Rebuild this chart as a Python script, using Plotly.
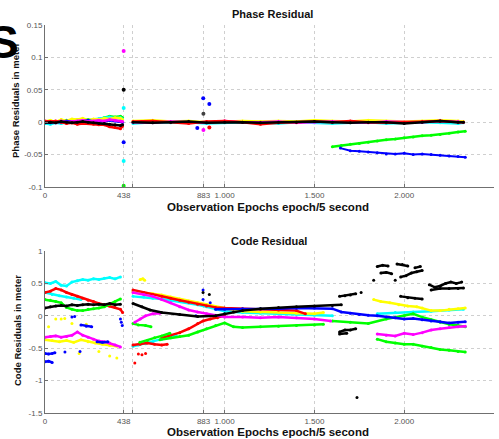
import plotly.graph_objects as go

# ---------------- axis ticks ----------------
x_tick_vals = [0, 438, 486, 883, 1000, 1500, 2000, 2500]
x_tick_text = ["0", "438", "", "883", "1.000", "1.500", "2.000", "2.500"]
ph_tick_vals = [-0.1, -0.05, 0, 0.05, 0.1, 0.15]
ph_tick_text = ["-0.1", "-0.05", "0", "0.05", "0.1", "0.15"]
cd_tick_vals = [-1.5, -1, -0.5, 0, 0.5, 1]
cd_tick_text = ["-1.5", "-1", "-0.5", "0", "0.5", "1"]

# ---------------- Phase residual data ----------------
ph_x1 = [0, 30, 60, 90, 120, 150, 180, 210, 240, 270, 300, 330, 360, 390, 420, 432]
ph_red1 = [0.002, 0.001, 0.002, 0.0, -0.002, -0.001, -0.003, -0.002, -0.002, -0.003, -0.004, -0.004, -0.007, -0.008, -0.010, -0.006]
ph_yellow1 = [0.001, 0.003, 0.0, 0.004, 0.002, 0.005, 0.004, 0.006, 0.003, 0.005, 0.004, 0.006, 0.005, 0.007, 0.006, 0.004]
ph_cyan1 = [-0.002, -0.003, -0.001, -0.002, 0.0, 0.001, 0.002, 0.0, 0.003, 0.004, 0.005, 0.006, 0.008, 0.006, 0.007, 0.005]
ph_green1 = [0.001, 0.002, 0.0, 0.001, 0.003, 0.002, 0.004, 0.003, 0.004, 0.002, 0.005, 0.007, 0.009, 0.008, 0.009, 0.007]
ph_magenta1 = [0.0, 0.001, -0.001, 0.002, 0.0, 0.001, 0.002, 0.003, 0.001, 0.002, 0.003, 0.002, 0.004, 0.003, 0.002, 0.001]
ph_blue1 = [0.0, -0.001, 0.001, 0.0, 0.002, 0.001, 0.0, 0.002, 0.003, 0.001, 0.002, 0.001, 0.003, 0.002, 0.001, 0.0]
ph_black1 = [-0.001, 0.0, -0.001, 0.001, 0.0, -0.001, 0.0, 0.001, 0.0, -0.001, -0.002, -0.002, -0.003, -0.004, -0.005, -0.004]

ph_x2 = [490, 600, 700, 800, 900, 1000, 1100, 1200, 1300, 1400, 1500, 1600, 1700, 1800, 1900, 2000, 2100, 2200, 2300, 2330]
ph_red2 = [0.001, 0.002, 0.0, -0.002, 0.001, 0.002, 0.0, -0.003, -0.001, 0.0, 0.001, 0.0, 0.002, 0.0, -0.001, 0.0, 0.001, 0.002, 0.0, 0.0]
ph_yellow2 = [0.002, 0.003, 0.001, 0.002, 0.0, 0.001, 0.002, 0.001, 0.002, 0.001, 0.003, 0.002, 0.001, 0.003, 0.002, 0.001, 0.002, 0.003, 0.002, 0.001]
ph_cyan2 = [-0.002, 0.0, -0.001, 0.0, -0.002, -0.001, 0.0, -0.001, -0.002, 0.0, -0.001, -0.002, -0.001, 0.0, -0.002, -0.001, 0.0, -0.001, -0.002, -0.001]
ph_magenta2 = [0.0, -0.001, 0.001, 0.0, -0.001, 0.002, 0.0, 0.0, 0.001, -0.001, 0.0, 0.001, 0.0, -0.001, 0.001, 0.0, 0.0, 0.002, 0.001, 0.0]
ph_black2 = [0.0, -0.001, 0.0, 0.001, -0.001, 0.0, 0.0, -0.001, 0.0, 0.0, 0.001, 0.0, -0.001, 0.0, 0.0, -0.002, 0.0, 0.002, 0.0, 0.0]

ph_green3_x = [1600, 1650, 1700, 1750, 1800, 1850, 1900, 1950, 2000, 2050, 2100, 2150, 2200, 2250, 2300, 2340]
ph_green3 = [-0.038, -0.036, -0.034, -0.033, -0.031, -0.029, -0.027, -0.026, -0.024, -0.023, -0.021, -0.020, -0.019, -0.017, -0.015, -0.014]
ph_blue3_x = [1645, 1700, 1750, 1800, 1850, 1900, 1950, 2000, 2050, 2100, 2150, 2200, 2250, 2300, 2340]
ph_blue3 = [-0.040, -0.044, -0.045, -0.046, -0.047, -0.049, -0.049, -0.048, -0.050, -0.049, -0.050, -0.051, -0.052, -0.053, -0.054]

# outliers near the gaps
ph_out_x = [438, 438, 438, 438, 438, 438, 881, 915, 848, 882, 915, 882]
ph_out_y = [0.110, 0.050, 0.022, -0.031, -0.060, -0.098, 0.037, 0.028, -0.009, -0.012, -0.008, 0.013]
ph_out_c = ["#ff00ff", "#000000", "#00ffff", "#0000ff", "#00ffff", "#00ff00",
            "#0000ff", "#0000ff", "#0000ff", "#ff00ff", "#ff0000", "#404040"]

# ---------------- Code residual data (None = gap) ----------------
cd_cyan_x = [0, 30, 60, 90, 120, 150, 180, 210, 240, 270, 300, 330, 360, 390, 420, None,
             0, 40, 80, 120, 160, 200, None,
             490, 550, 600, 650, 700, 750, 800, 850, 900, 950, 1000, 1100, 1200, 1300, 1400, 1500, 1600, None,
             490, 520, 560, 600, 650, 700, 730, None,
             1850, 1950, 2050, 2150, 2250, 2330]
cd_cyan_y = [0.51, 0.50, 0.53, 0.47, 0.46, 0.52, 0.54, 0.56, 0.55, 0.57, 0.56, 0.58, 0.59, 0.57, 0.60, None,
             0.36, 0.33, 0.31, 0.29, 0.27, 0.25, None,
             0.30, 0.29, 0.27, 0.26, 0.24, 0.22, 0.20, 0.17, 0.14, 0.10, 0.07, 0.05, 0.04, 0.03, 0.02, 0.01, 0.00, None,
             -0.47, -0.45, -0.43, -0.40, -0.36, -0.32, -0.30, None,
             0.03, 0.05, 0.06, 0.07, 0.09, 0.10]

cd_red_x = [0, 30, 60, 90, 120, 150, 180, 210, 240, 270, 300, 330, 360, 390, 420, 432, None,
            490, 550, 600, 650, 700, 750, 800, 850, 900, 950, 1000, 1100, 1200, 1300, 1400, 1450, None,
            490, 530, 570, 610, 650, 680, None,
            650, 700, 750, 800, 850, 880, 920, 960, 1000, None,
            500, None, 520, None, 540, None, 560]
cd_red_y = [0.36, 0.38, 0.42, 0.40, 0.36, 0.33, 0.30, 0.27, 0.24, 0.22, 0.19, 0.17, 0.15, 0.13, 0.10, 0.05, None,
            0.40, 0.36, 0.33, 0.30, 0.27, 0.24, 0.21, 0.18, 0.15, 0.13, 0.12, 0.11, 0.10, 0.09, 0.08, 0.03, None,
            -0.45, -0.44, -0.42, -0.44, -0.45, -0.44, None,
            -0.34, -0.30, -0.26, -0.20, -0.12, -0.08, -0.05, -0.03, 0.0, None,
            -0.73, None, -0.59, None, -0.60, None, -0.58]

cd_green_x = [0, 30, 60, 90, 120, 150, 180, 210, 240, 270, 300, 330, 360, 390, 420, None,
              490, 520, 560, 590, None,
              528, 570, 610, 650, 695, None,
              640, 700, 750, 800, 850, 900, 950, 1000, 1050, 1100, 1200, 1300, 1400, 1500, 1550, None,
              1600, 1700, 1800, 1900, 2000, 2050, 2100, 2150, 2200, 2250, 2300, 2340, None,
              1850, 1900, 1950, 2000, 2050, 2100, 2150, 2200, 2250, 2300, 2340]
cd_green_y = [0.25, 0.24, 0.22, 0.20, 0.13, 0.10, 0.08, 0.08, 0.10, 0.11, 0.12, 0.14, 0.18, 0.22, 0.26, None,
              -0.12, -0.14, -0.15, -0.17, None,
              -0.41, -0.38, -0.34, -0.31, -0.27, None,
              -0.37, -0.34, -0.32, -0.30, -0.25, -0.20, -0.15, -0.11, -0.17, -0.18, -0.17, -0.16, -0.15, -0.14, -0.13, None,
              -0.08, -0.10, -0.12, -0.05, 0.0, 0.03, -0.02, -0.06, -0.10, -0.13, -0.15, -0.17, None,
              -0.36, -0.40, -0.42, -0.44, -0.44, -0.47, -0.49, -0.52, -0.53, -0.55, -0.56]

cd_magenta_x = [0, 30, 60, 90, 120, 150, 180, 210, 240, 270, 300, 330, 360, 390, 420, None,
                490, 550, 600, 650, 700, 750, 800, 850, 900, 950, 1000, 1100, 1200, 1300, 1400, 1500, 1590, None,
                500, 530, 560, 600, 640, None,
                1850, 1900, 1950, 2000, 2050, 2100, 2150, 2200, 2250, 2300, 2340]
cd_magenta_y = [-0.33, -0.32, -0.31, -0.33, -0.32, -0.30, -0.25, -0.30, -0.33, -0.36, -0.39, -0.40, -0.42, -0.45, -0.48, None,
                0.36, 0.33, 0.30, 0.25, 0.20, 0.14, 0.09, 0.06, 0.03, 0.01, -0.02, -0.02, -0.03, -0.02, -0.03, -0.05, -0.08, None,
                -0.10, -0.05, 0.0, 0.03, 0.04, None,
                -0.28, -0.30, -0.31, -0.27, -0.29, -0.26, -0.22, -0.20, -0.18, -0.17, -0.16]

cd_yellow_x = [0, 40, 80, 120, 160, 200, 240, 280, 320, 360, 400, None,
               60, None, 90, None, 110, None, 150, None, 190, None, 230, None, 300, None, 360, None, 400, None, 20, None,
               530, 545, 555, None,
               490, 550, 600, 650, 700, 750, 800, 850, 900, 950, 1000, 1050, 1100, 1200, 1300, 1400, 1500, 1550, None,
               1830, 1870, 1920, 1970, 2020, 2070, 2100, 2150, 2200, 2250, 2300, 2340]
cd_yellow_y = [-0.37, -0.38, -0.40, -0.38, -0.41, -0.37, -0.40, -0.42, -0.44, -0.46, -0.47, None,
               -0.05, None, -0.05, None, -0.04, None, -0.12, None, -0.58, None, -0.13, None, -0.55, None, -0.62, None, -0.65, None, -0.17, None,
               0.56, 0.57, 0.55, None,
               0.38, 0.36, 0.34, 0.32, 0.29, 0.26, 0.23, 0.20, 0.17, 0.14, 0.11, 0.09, 0.07, 0.06, 0.06, 0.04, 0.03, 0.05, None,
               0.25, 0.22, 0.20, 0.17, 0.15, 0.14, 0.12, 0.08, 0.08, 0.10, 0.11, 0.12]

cd_blue_x = [0, 20, 40, 55, None, 0, 20, 40, None, 200, 230, 260, None, 290, 320, 350, None,
             111, None, 150, None, 165, None, 195, None, 420, None, 425, None, 430, None,
             880, None, 920, None, 880, None, 840, None,
             950, 1000, 1100, 1200, 1300, 1400, 1500, 1600, 1650, 1700, 1750, 1800, 1850, 1900, 1950, 2000, 2050, 2100, 2150, 2200, 2250, 2300, 2340]
cd_blue_y = [-0.58, -0.59, -0.58, -0.57, None, -0.71, -0.70, -0.72, None, -0.14, -0.16, -0.17, None, -0.40, -0.41, -0.40, None,
             -0.56, None, -0.02, None, -0.01, None, -0.55, None, -0.05, None, -0.10, None, -0.15, None,
             0.25, None, 0.20, None, 0.40, None, 0.0, None,
             0.10, 0.10, 0.11, 0.11, 0.11, 0.12, 0.12, 0.11, 0.06, 0.04, 0.02, 0.01, 0.0, -0.02, -0.03, -0.05, -0.04, -0.06, -0.08, -0.09, -0.11, -0.10, -0.09]

cd_black_x = [0, 30, 60, 90, 120, 150, 180, 210, 240, 270, 300, 330, 360, 390, 420, None,
              490, 540, 585, 650, 750, 850, 950, 1000, 1050, 1100, 1200, 1300, 1400, 1500, 1600, 1650, None,
              1640, 1670, 1700, 1730, None,
              1850, 1880, 1910, None, 1870, 1900, 1930, None, 1960, 1990, 2020, None,
              1980, 2010, 2040, 2070, 2100, None, 2060, 2090, None,
              2140, 2170, 2200, 2230, 2260, 2290, 2320, None,
              2150, 2200, 2250, 2300, 2330, None,
              1980, 2020, 2060, 2100, None,
              1640, 1670, 1700, 1730, None, 1640, 1680, None,
              1737, None, 880, None, 915, None, 1760, None, 1830, None, 1950]
cd_black_y = [0.12, 0.14, 0.15, 0.16, 0.15, 0.17, 0.16, 0.17, 0.18, 0.17, 0.18, 0.17, 0.19, 0.17, 0.18, None,
              0.19, 0.14, 0.09, 0.05, 0.02, -0.01, 0.0, 0.03, 0.06, 0.08, 0.11, 0.13, 0.14, 0.15, 0.16, 0.17, None,
              0.30, 0.31, 0.32, 0.34, None,
              0.76, 0.78, 0.77, None, 0.66, 0.67, 0.65, None, 0.80, 0.79, 0.77, None,
              0.60, 0.62, 0.66, 0.68, 0.70, None, 0.74, 0.76, None,
              0.48, 0.44, 0.46, 0.50, 0.52, 0.50, 0.52, None,
              0.40, 0.42, 0.42, 0.42, 0.43, None,
              0.30, 0.28, 0.27, 0.26, None,
              -0.25, -0.22, -0.22, -0.20, None, -0.28, -0.27, None,
              -1.26, None, 0.36, None, 0.33, None, 0.36, None, 0.55, None, 0.55]

FONT = "Arial, Liberation Sans, sans-serif"
GRID = "#cfcfcf"
AXL = "#707070"

fig = go.Figure()


def add(x, y, color, xa, ya, lw=2.5, ms=3):
    fig.add_trace(go.Scatter(x=x, y=y, mode="lines+markers", xaxis=xa, yaxis=ya,
                             line=dict(color=color, width=lw), marker=dict(color=color, size=ms),
                             connectgaps=False, showlegend=False, hoverinfo="skip"))


# phase panel
for ys, c in [(ph_green1, "#00ff00"), (ph_cyan1, "#00ffff"), (ph_yellow1, "#ffff00"),
              (ph_blue1, "#0000ff"), (ph_magenta1, "#ff00ff"), (ph_red1, "#ff0000"), (ph_black1, "#000000")]:
    add(ph_x1, ys, c, "x", "y")
for ys, c in [(ph_cyan2, "#00ffff"), (ph_yellow2, "#ffff00"), (ph_magenta2, "#ff00ff"),
              (ph_red2, "#ff0000"), (ph_black2, "#000000")]:
    add(ph_x2, ys, c, "x", "y")
add(ph_green3_x, ph_green3, "#00ff00", "x", "y")
add(ph_blue3_x, ph_blue3, "#0000ff", "x", "y", lw=2)
fig.add_trace(go.Scatter(x=ph_out_x, y=ph_out_y, mode="markers", xaxis="x", yaxis="y",
                         marker=dict(color=ph_out_c, size=4), showlegend=False, hoverinfo="skip"))

# code panel
for xs, ys, c in [(cd_cyan_x, cd_cyan_y, "#00ffff"), (cd_yellow_x, cd_yellow_y, "#ffff00"),
                  (cd_red_x, cd_red_y, "#ff0000"), (cd_green_x, cd_green_y, "#00ff00"),
                  (cd_magenta_x, cd_magenta_y, "#ff00ff"), (cd_blue_x, cd_blue_y, "#0000ff"),
                  (cd_black_x, cd_black_y, "#000000")]:
    add(xs, ys, c, "x2", "y2")

xcommon = dict(range=[0, 2500], tickvals=x_tick_vals, ticktext=x_tick_text, tickangle=0,
               showgrid=True, gridcolor=GRID, griddash="dot", gridwidth=1, automargin=False,
               showline=True, linecolor=AXL, linewidth=1, ticks="inside", ticklen=3, tickcolor=AXL,
               zeroline=False, tickfont=dict(family=FONT, size=8, color="#555555"))
ycommon = dict(showgrid=True, gridcolor=GRID, griddash="dot", gridwidth=1, automargin=False,
               showline=True, linecolor=AXL, linewidth=1, ticks="inside", ticklen=3, tickcolor=AXL,
               zeroline=False, tickfont=dict(family=FONT, size=8, color="#555555"))


def py2paper(py):
    return (413 - py) / 388


def px2paper(px):
    return (px - 45) / 449


def label(text, px, py, size, angle=0, color="#111111"):
    return dict(text=text, x=px2paper(px), y=py2paper(py), xref="paper", yref="paper",
                xanchor="center", yanchor="middle", textangle=angle, showarrow=False,
                font=dict(family=FONT, size=size, color=color))


fig.update_layout(
    width=499, height=439,
    margin=dict(l=45, r=5, t=25, b=26, autoexpand=False),
    paper_bgcolor="white", plot_bgcolor="white",
    xaxis=dict(domain=[0, 1], anchor="y", **xcommon),
    yaxis=dict(domain=[0.5825, 1.0], anchor="x", range=[-0.1, 0.15],
               tickvals=ph_tick_vals, ticktext=ph_tick_text, **ycommon),
    xaxis2=dict(domain=[0, 1], anchor="y2", **xcommon),
    yaxis2=dict(domain=[0, 0.4175], anchor="x2", range=[-1.5, 1],
                tickvals=cd_tick_vals, ticktext=cd_tick_text, **ycommon),
    annotations=[
        label("<b>Phase Residual</b>", 272, 14, 11),
        label("<b>Code Residual</b>", 269, 241, 11),
        label("<b>Observation Epochs epoch/5 second</b>", 268, 206.5, 11.5),
        label("<b>Observation Epochs epoch/5 second</b>", 268, 432, 11.5),
        label("<b>Phase Residuals in meter</b>", 16, 101, 9.5, angle=-90),
        label("<b>Code Residuals in meter</b>", 17, 331, 9.5, angle=-90),
        label("<b>S</b>", 3, 42, 46, color="#000000"),
    ],
)

fig.write_html("out.html", post_script="document.body.style.margin='0';",
               config={"displayModeBar": False})
